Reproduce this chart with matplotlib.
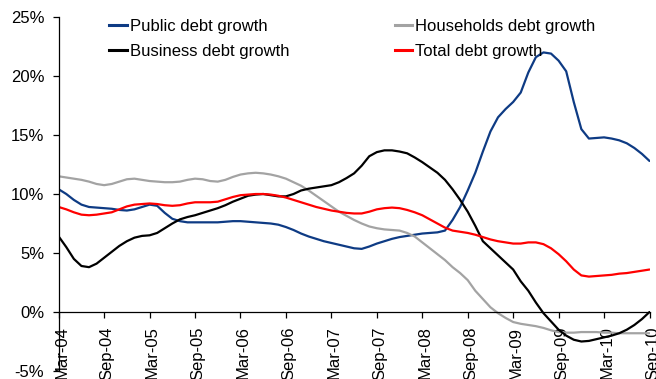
import matplotlib
matplotlib.use("Agg")
import matplotlib.pyplot as plt
from matplotlib.lines import Line2D
from matplotlib.transforms import ScaledTranslation
import numpy as np

# Monthly debt growth rates (% y/y), Mar-2004 .. Sep-2010
public_debt = [
    10.4, 10.0, 9.5, 9.1, 8.9, 8.85, 8.8, 8.75, 8.65, 8.6,
    8.7, 8.9, 9.1, 9.0, 8.4, 7.9, 7.7, 7.6, 7.6, 7.6,
    7.6, 7.6, 7.65, 7.7, 7.7, 7.65, 7.6, 7.55, 7.5, 7.4,
    7.2, 6.95, 6.65, 6.4, 6.2, 6.0, 5.85, 5.7, 5.55, 5.4,
    5.35, 5.55, 5.8, 6.0, 6.2, 6.35, 6.45, 6.55, 6.65, 6.7,
    6.75, 6.9, 7.8, 8.9, 10.3, 11.8, 13.6, 15.3, 16.5, 17.2,
    17.8, 18.6, 20.3, 21.6, 22.0, 21.9, 21.3, 20.4, 17.8, 15.5,
    14.7, 14.75, 14.8, 14.7, 14.55, 14.3, 13.9, 13.4, 12.8,
]
households_debt = [
    11.5, 11.4, 11.3, 11.2, 11.05, 10.85, 10.75, 10.85, 11.05, 11.25,
    11.3, 11.2, 11.1, 11.05, 11.0, 11.0, 11.05, 11.2, 11.3, 11.25,
    11.1, 11.05, 11.2, 11.45, 11.65, 11.75, 11.8, 11.75, 11.65, 11.5,
    11.3, 11.0, 10.7, 10.3, 9.85, 9.4, 8.95, 8.5, 8.15, 7.8,
    7.5, 7.25, 7.1, 7.0, 6.95, 6.9, 6.7, 6.4, 5.9, 5.4,
    4.9, 4.4, 3.8, 3.3, 2.7, 1.8, 1.1, 0.4, -0.1, -0.5,
    -0.85, -1.0, -1.1, -1.2, -1.35, -1.55, -1.7, -1.75, -1.75, -1.7,
    -1.7, -1.7, -1.75, -1.75, -1.8, -1.8, -1.8, -1.8, -1.8,
]
business_debt = [
    6.4, 5.5, 4.5, 3.9, 3.8, 4.1, 4.6, 5.1, 5.6, 6.0,
    6.3, 6.45, 6.5, 6.7, 7.1, 7.5, 7.85, 8.05, 8.2, 8.4,
    8.6, 8.8, 9.05, 9.35, 9.6, 9.85, 9.95, 10.0, 9.9, 9.8,
    9.8, 10.0, 10.3, 10.45, 10.55, 10.65, 10.75, 11.0, 11.35, 11.75,
    12.4, 13.2, 13.55, 13.7, 13.7, 13.6, 13.45, 13.1, 12.7, 12.25,
    11.8, 11.2, 10.4, 9.5, 8.5, 7.3, 6.0, 5.4, 4.8, 4.2,
    3.6, 2.6, 1.8, 0.8, -0.1, -0.8, -1.5, -2.0, -2.35, -2.5,
    -2.45, -2.3, -2.15, -2.0, -1.8, -1.5, -1.1, -0.6, 0.0,
]
total_debt = [
    8.9, 8.7, 8.45, 8.25, 8.2, 8.25, 8.35, 8.45, 8.7, 8.95,
    9.1, 9.15, 9.2, 9.15, 9.05, 9.0, 9.05, 9.2, 9.3, 9.3,
    9.3, 9.35, 9.55, 9.75, 9.9, 9.95, 10.0, 10.0, 9.95, 9.85,
    9.7, 9.5, 9.3, 9.1, 8.9, 8.75, 8.6, 8.5, 8.4, 8.35,
    8.35, 8.5, 8.7, 8.8, 8.85, 8.8, 8.65, 8.45, 8.2, 7.85,
    7.5, 7.15, 6.9, 6.8, 6.7, 6.55, 6.35, 6.15, 6.0, 5.9,
    5.8, 5.8, 5.9, 5.9, 5.75, 5.4, 4.9, 4.3, 3.6, 3.1,
    3.0, 3.05, 3.1, 3.15, 3.25, 3.3, 3.4, 3.5, 3.6,
]
tick_labels = ["Mar-04", "Sep-04", "Mar-05", "Sep-05", "Mar-06", "Sep-06",
               "Mar-07", "Sep-07", "Mar-08", "Sep-08", "Mar-09", "Sep-09",
               "Mar-10", "Sep-10"]
y_ticks = [-5, 0, 5, 10, 15, 20, 25]

plt.rcParams["font.family"] = ["Liberation Sans", "DejaVu Sans"]
plt.rcParams["font.size"] = 12

fig = plt.figure(figsize=(6.56, 3.79), dpi=100)
ax = fig.add_axes([0.0895, 0.0211, 0.9006, 0.934])

# axis lines: left spine plus a horizontal axis through zero
for s in ("top", "right"):
    ax.spines[s].set_visible(False)
ax.spines["bottom"].set_position(("data", 0))
for s in ("left", "bottom"):
    ax.spines[s].set_linewidth(0.9)
    ax.spines[s].set_color("black")

months = np.arange(len(public_debt))
series = [
    ("Public debt growth", public_debt, "#0E3B84"),
    ("Households debt growth", households_debt, "#A3A3A3"),
    ("Business debt growth", business_debt, "#000000"),
    ("Total debt growth", total_debt, "#FF0000"),
]
lines = {}
for name, vals, col in series:
    (ln,) = ax.plot(months, vals, color=col, lw=1.6, solid_capstyle="round")
    lines[name] = ln

ax.set_xlim(0, len(public_debt) - 1)
ax.set_ylim(-5, 25)
ax.set_yticks(y_ticks)
ax.set_yticklabels([f"{v}%" for v in y_ticks])
ax.set_xticks(np.arange(0, len(public_debt), 6))
ax.set_xticklabels(tick_labels, rotation=90, va="top", ha="center")

ax.tick_params(axis="y", direction="out", length=4, width=0.9, pad=6.5)
ax.tick_params(axis="x", direction="out", length=4, width=0.9, pad=6.5)
shift = ScaledTranslation(3 / 100, 0, fig.dpi_scale_trans)
for lab in ax.get_xticklabels():
    lab.set_transform(lab.get_transform() + shift)

order = ["Public debt growth", "Business debt growth",
         "Households debt growth", "Total debt growth"]
handles = [Line2D([], [], color=lines[n].get_color(), lw=2.2) for n in order]
fig.legend(handles, order, ncol=2, loc="upper left",
           bbox_to_anchor=(109.3 / 656, 1 - 18.5 / 379), frameon=False,
           borderpad=0, borderaxespad=0, handlelength=1.05, handletextpad=0.2,
           columnspacing=6.3, labelspacing=0.62, fontsize=12)

fig.savefig("out.png", dpi=100)
